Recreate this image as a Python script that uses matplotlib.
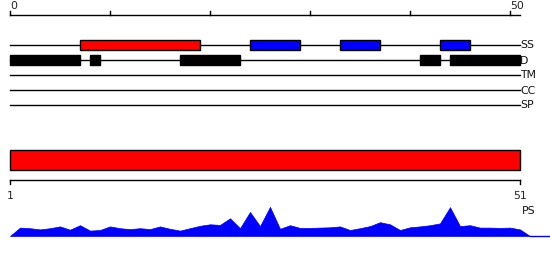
import matplotlib
matplotlib.use("Agg")
import matplotlib.pyplot as plt
from matplotlib.patches import Rectangle

# ---- data ----
seq_len = 51
top_ticks = [0, 10, 20, 30, 40, 50]
top_tick_labels = {0: "0", 50: "50"}
track_names = ["SS", "D", "TM", "CC", "SP"]
ss_helix = [(7, 19)]                       # red boxes
ss_strand = [(24, 29), (33, 37), (43, 46)]  # blue boxes
disorder = [(0, 7), (8, 9), (17, 23), (41, 43), (44, 51)]
domain_range = (0, 51)
bottom_tick_labels = ["1", "51"]
ps_scores = [0, .28, .26, .22, .26, .32, .21, .36, .18, .20, .32, .26, .23, .26,
             .23, .32, .24, .18, .26, .34, .39, .37, .59, .26, .80, .33, .97, .24,
             .36, .27, .27, .28, .29, .32, .20, .26, .33, .46, .39, .20, .29, .32,
             .36, .42, .96, .33, .36, .28, .28, .27, .28, .22, 0]

# ---- layout (pixel-like vertical units) ----
W, H = 550, 260
fig = plt.figure(figsize=(W / 100, H / 100), dpi=100)
ax = fig.add_axes([0, 0, 1, 1])
ax.set_xlim(-1, 54)
ax.set_ylim(H, 0)
ax.axis("off")

FS = 7.8
lw = 1.0

# top ruler
y_rule = 15
ax.plot([0, seq_len], [y_rule, y_rule], color="black", lw=lw)
for t in top_ticks:
    ax.plot([t, t], [y_rule - 4, y_rule], color="black", lw=lw)
    if t in top_tick_labels:
        ax.text(t, y_rule - 4, top_tick_labels[t], ha="left", va="bottom",
                fontsize=FS, color="#222222")

# tracks
track_y = {name: 45 + 15 * i for i, name in enumerate(track_names)}
for name, y in track_y.items():
    ax.plot([0, seq_len], [y, y], color="black", lw=lw, zorder=1)
    ax.text(seq_len + 0.02, y + 0.5, name, ha="left", va="center", fontsize=FS,
            color="#111111")

def boxes(spans, y, h, color, edge):
    for s, e in spans:
        ax.add_patch(Rectangle((s, y - h / 2), e - s, h, facecolor=color,
                               edgecolor=edge, lw=lw, zorder=2))

boxes(ss_helix, track_y["SS"], 10.5, "#ff0000", "black")
boxes(ss_strand, track_y["SS"], 10.5, "#0000ff", "black")
boxes(disorder, track_y["D"], 10.5, "black", "black")

# domain bar
ax.add_patch(Rectangle((domain_range[0], 150), domain_range[1] - domain_range[0], 20,
                       facecolor="#ff0000", edgecolor="black", lw=lw))

# bottom ruler
y_b = 180
ax.plot([0, seq_len], [y_b, y_b], color="black", lw=lw)
for t, lab in zip([0, seq_len], bottom_tick_labels):
    ax.plot([t, t], [y_b, y_b + 4], color="black", lw=lw)
    ax.text(t, 196, lab, ha="center", va="center", fontsize=FS, color="#222222")
ax.text(seq_len + 0.15, 211, "PS", ha="left", va="center", fontsize=FS,
        color="#111111")

# PS area
base = 236
scale = 30
xs = list(range(len(ps_scores)))
ys = [base - v * scale for v in ps_scores]
ax.fill_between(xs, base, ys, facecolor="#0000ff", edgecolor="#0000ff", lw=0.5)
ax.plot([xs[-1], 54], [base, base], color="#0000ff", lw=1.0)

fig.savefig("out.png", dpi=100)
